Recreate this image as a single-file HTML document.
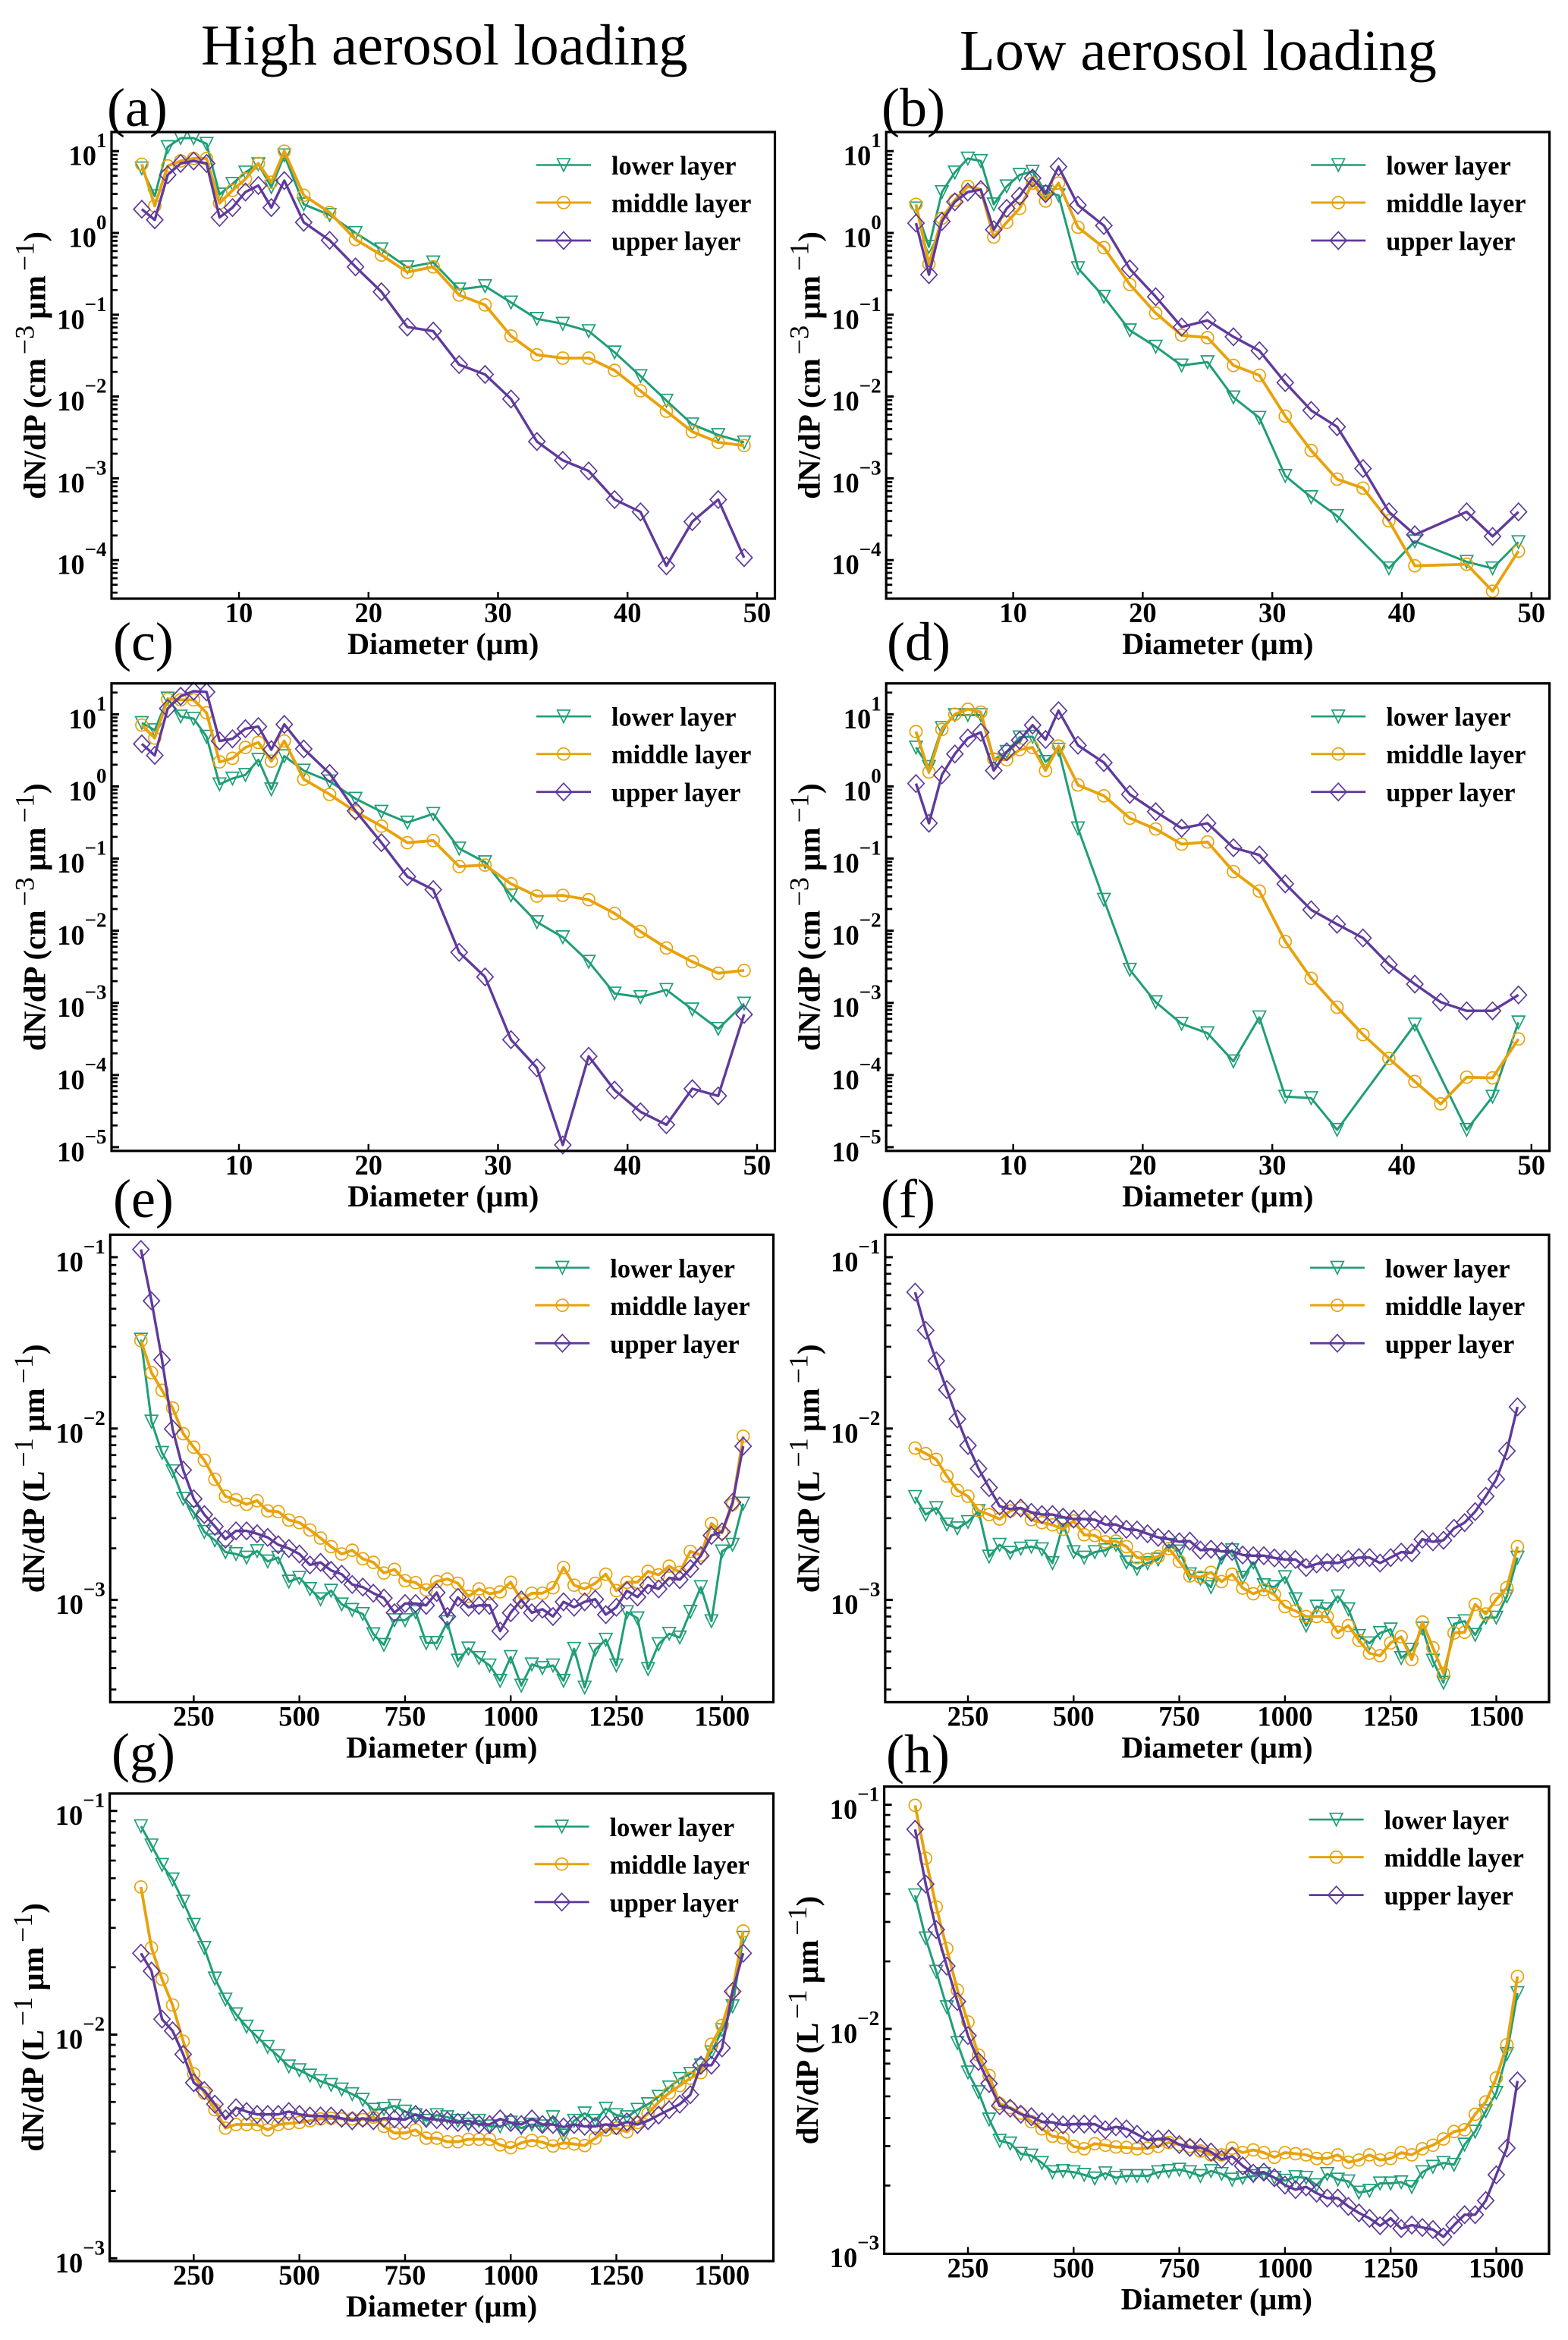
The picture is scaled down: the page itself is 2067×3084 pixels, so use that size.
<!DOCTYPE html>
<html lang="en">
<head>
<meta charset="utf-8">
<title>Particle size distributions by aerosol loading</title>
<style>
  html, body { margin: 0; padding: 0; background: #fff; }
  svg { display: block; }
  text { font-family: "Liberation Serif", "DejaVu Serif", serif; fill: #000; }
</style>
</head>
<body>
<svg id="figure" xmlns="http://www.w3.org/2000/svg" width="2067" height="3084" viewBox="0 0 2067 3084">
  <rect x="0" y="0" width="2067" height="3084" fill="#ffffff"></rect>
  <text x="265" y="85" font-size="76.5">High aerosol loading</text>
  <text x="1265" y="92" font-size="76.5">Low aerosol loading</text>
</svg>
<script>
// Diameter bins (µm)
const cloudDiameters = [2.5,3.5,4.5,5.5,6.5,7.5,8.5,9.5,10.5,11.5,12.5,13.5,15,17,19,21,23,25,27,29,31,33,35,37,39,41,43,45,47,49];
const precipDiameters = [125,150,175,200,225,250,275,300,325,350,375,400,425,450,475,500,525,550,575,600,625,650,675,700,725,750,775,800,825,850,875,900,925,950,975,1000,1025,1050,1075,1100,1125,1150,1175,1200,1225,1250,1275,1300,1325,1350,1375,1400,1425,1450,1475,1500,1525,1550];

// Tick labels
const cloudXTicks = [10,20,30,40,50];
const precipXTicks = [250,500,750,1000,1250,1500];
const abExponents = [1,0,-1,-2,-3,-4];
const cdExponents = [1,0,-1,-2,-3,-4,-5];
const efhgExponents = [-1,-2,-3];

// Series values: log10(dN/dP); null = no sample in that bin
const aLower = [0.79,0.45,1.05,1.16,1.16,1.09,0.47,0.60,0.74,0.84,0.56,0.95,0.35,0.22,0,-0.20,-0.42,-0.36,-0.69,-0.65,-0.85,-1.05,-1.11,-1.20,-1.46,-1.75,-2.05,-2.34,-2.47,-2.56];
const aMiddle = [0.84,0.33,0.82,0.88,0.91,0.91,0.365,0.52,0.66,0.85,0.62,1.00,0.46,0.25,-0.08,-0.27,-0.48,-0.415,-0.76,-0.88,-1.26,-1.49,-1.53,-1.53,-1.68,-1.93,-2.18,-2.43,-2.56,-2.60];
const aUpper = [0.29,0.16,0.71,0.85,0.88,0.85,0.19,0.31,0.50,0.58,0.31,0.64,0.13,-0.09,-0.415,-0.72,-1.15,-1.20,-1.61,-1.73,-2.03,-2.55,-2.78,-2.91,-3.26,-3.41,-4.07,-3.53,-3.26,-3.97];

const bLower = [0.30,-0.17,0.50,0.74,0.91,0.88,0.35,0.57,0.71,0.75,0.50,0.46,-0.43,-0.78,-1.19,-1.39,-1.62,-1.58,-2.01,-2.26,-2.97,-3.23,-3.46,null,-4.10,-3.77,null,-4.02,-4.10,-3.78];
const bMiddle = [0.35,-0.38,0.18,0.40,0.57,0.53,-0.05,0.13,0.30,0.61,0.39,0.61,0.07,-0.18,-0.63,-0.98,-1.25,-1.28,-1.62,-1.74,-2.24,-2.66,-3.01,-3.12,-3.52,-4.07,null,-4.05,-4.38,-3.89];
const bUpper = [0.12,-0.51,0.14,0.38,0.50,0.53,0.04,0.30,0.45,0.67,0.48,0.81,0.34,0.09,-0.44,-0.78,-1.15,-1.07,-1.27,-1.44,-1.83,-2.17,-2.37,-2.88,-3.41,-3.69,null,-3.41,-3.71,-3.41];

const cLower = [0.88,0.78,1.22,0.97,0.94,0.69,0.03,0.11,0.16,0.37,-0.04,0.42,0.22,0.07,-0.17,-0.35,-0.50,-0.38,-0.86,-1.05,-1.51,-1.88,-2.09,-2.43,-2.87,-2.92,-2.82,-3.09,-3.36,-3.01];
const cMiddle = [0.85,0.67,1.21,1.20,1.20,1.02,0.34,0.39,0.54,0.61,0.35,0.63,0.10,-0.11,-0.35,-0.55,-0.78,-0.75,-1.11,-1.09,-1.35,-1.52,-1.51,-1.57,-1.76,-2.01,-2.24,-2.43,-2.59,-2.55];
const cUpper = [0.59,0.43,1.08,1.25,1.32,1.31,0.63,0.66,0.80,0.83,0.51,0.86,0.52,0.18,-0.34,-0.78,-1.25,-1.43,-2.30,-2.64,-3.51,-3.90,-4.97,-3.74,-4.21,-4.51,-4.69,-4.19,-4.29,-3.16];

const dLower = [0.54,0.27,0.81,0.99,0.99,0.99,0.37,0.48,0.68,0.69,0.34,0.51,-0.58,-1.57,-2.54,-2.99,-3.29,-3.42,-3.81,-3.20,-4.30,-4.32,-4.76,null,null,-3.30,null,-4.76,-4.30,-3.27];
const dMiddle = [0.76,0.20,0.79,1.00,1.07,1.03,0.38,0.37,0.51,0.54,0.22,0.56,0.02,-0.13,-0.44,-0.59,-0.80,-0.77,-1.18,-1.45,-2.15,-2.66,-3.06,-3.44,-3.77,-4.09,-4.40,-4.03,-4.04,-3.50];
const dUpper = [0.04,-0.51,0.16,0.45,0.67,0.75,0.22,0.48,0.64,0.85,0.65,1.05,0.57,0.33,-0.11,-0.35,-0.58,-0.51,-0.85,-0.95,-1.35,-1.71,-1.91,-2.10,-2.47,-2.74,-2.99,-3.11,-3.11,-2.89];

const eLower = [-1.481,-1.959,-2.142,-2.249,-2.410,-2.491,-2.603,-2.652,-2.721,-2.732,-2.753,-2.715,-2.775,-2.753,-2.893,-2.871,-2.936,-2.996,-2.946,-3.026,-3.058,-3.082,-3.200,-3.262,-3.118,-3.118,-3.071,-3.251,-3.251,-3.129,-3.354,-3.283,-3.339,-3.382,-3.472,-3.333,-3.500,-3.376,-3.397,-3.382,-3.472,-3.285,-3.511,-3.290,-3.232,-3.382,-3.071,-3.107,-3.403,-3.258,-3.197,-3.219,-3.069,-2.925,-3.124,-2.717,-2.678,-2.438];
const eMiddle = [-1.487,-1.674,-1.777,-1.880,-2.030,-2.109,-2.185,-2.296,-2.395,-2.416,-2.442,-2.421,-2.481,-2.485,-2.534,-2.549,-2.592,-2.639,-2.689,-2.732,-2.710,-2.760,-2.781,-2.843,-2.822,-2.888,-2.899,-2.942,-2.893,-2.878,-2.903,-2.979,-2.936,-2.964,-2.953,-2.897,-3.000,-2.961,-2.961,-2.929,-2.811,-2.914,-2.936,-2.903,-2.850,-2.946,-2.897,-2.897,-2.833,-2.854,-2.803,-2.839,-2.717,-2.738,-2.554,-2.609,-2.442,-2.045];
const eUpper = [-0.955,-1.255,-1.599,-2.002,-2.242,-2.410,-2.502,-2.571,-2.646,-2.597,-2.597,-2.614,-2.635,-2.678,-2.700,-2.732,-2.796,-2.781,-2.828,-2.850,-2.910,-2.925,-2.961,-2.989,-3.075,-3.021,-3.021,-3.032,-2.957,-3.097,-2.985,-3.043,-3.032,-3.032,-3.182,-3.075,-3.000,-3.075,-3.054,-3.097,-3.011,-3.043,-3.011,-2.996,-3.086,-3.043,-2.946,-2.983,-2.914,-2.936,-2.871,-2.882,-2.818,-2.742,-2.624,-2.603,-2.431,-2.103];

const fLower = [-2.399,-2.502,-2.464,-2.560,-2.582,-2.545,-2.481,-2.747,-2.678,-2.725,-2.700,-2.689,-2.704,-2.785,-2.560,-2.721,-2.753,-2.721,-2.710,-2.678,-2.781,-2.818,-2.785,-2.764,-2.678,-2.717,-2.850,-2.876,-2.925,-2.753,-2.710,-2.871,-2.781,-2.914,-2.925,-2.867,-2.996,-3.150,-3.039,-3.054,-2.979,-3.054,-3.210,-3.253,-3.193,-3.172,-3.339,-3.290,-3.167,-3.354,-3.483,-3.140,-3.124,-3.204,-3.103,-3.103,-2.979,-2.753];
const fMiddle = [-2.114,-2.146,-2.180,-2.277,-2.361,-2.395,-2.479,-2.502,-2.528,-2.481,-2.464,-2.532,-2.549,-2.562,-2.588,-2.539,-2.620,-2.624,-2.661,-2.657,-2.689,-2.753,-2.764,-2.747,-2.700,-2.775,-2.860,-2.867,-2.839,-2.893,-2.850,-2.931,-2.964,-2.940,-2.968,-3.039,-3.064,-3.097,-3.097,-3.097,-3.189,-3.150,-3.236,-3.311,-3.326,-3.251,-3.215,-3.348,-3.129,-3.279,-3.429,-3.193,-3.189,-3.026,-3.082,-2.996,-2.929,-2.689];
const fUpper = [-1.204,-1.427,-1.605,-1.773,-1.944,-2.099,-2.234,-2.345,-2.453,-2.470,-2.464,-2.489,-2.502,-2.502,-2.517,-2.528,-2.528,-2.532,-2.560,-2.560,-2.588,-2.592,-2.614,-2.635,-2.646,-2.661,-2.657,-2.710,-2.704,-2.717,-2.717,-2.738,-2.742,-2.742,-2.755,-2.764,-2.764,-2.811,-2.790,-2.781,-2.785,-2.764,-2.753,-2.753,-2.785,-2.753,-2.721,-2.725,-2.646,-2.661,-2.652,-2.582,-2.549,-2.485,-2.395,-2.296,-2.131,-1.873];

const gLower = [-1.068,-1.154,-1.241,-1.306,-1.405,-1.509,-1.612,-1.749,-1.843,-1.909,-1.964,-2.010,-2.055,-2.096,-2.142,-2.159,-2.183,-2.208,-2.225,-2.245,-2.266,-2.291,-2.336,-2.332,-2.319,-2.344,-2.360,-2.385,-2.360,-2.369,-2.385,-2.402,-2.385,-2.410,-2.410,-2.393,-2.418,-2.402,-2.410,-2.369,-2.451,-2.385,-2.352,-2.385,-2.331,-2.360,-2.369,-2.336,-2.311,-2.278,-2.236,-2.198,-2.175,-2.137,-2.079,-1.980,-1.873,-1.567];
const gMiddle = [-1.340,-1.612,-1.752,-1.868,-2.030,-2.175,-2.261,-2.336,-2.418,-2.402,-2.402,-2.402,-2.426,-2.402,-2.397,-2.393,-2.385,-2.377,-2.374,-2.377,-2.377,-2.380,-2.369,-2.410,-2.440,-2.440,-2.426,-2.463,-2.463,-2.479,-2.479,-2.468,-2.468,-2.468,-2.493,-2.506,-2.484,-2.473,-2.481,-2.498,-2.484,-2.489,-2.496,-2.463,-2.426,-2.418,-2.435,-2.393,-2.352,-2.302,-2.261,-2.228,-2.195,-2.170,-2.043,-1.959,-1.807,-1.537];
const gUpper = [-1.636,-1.716,-1.931,-1.983,-2.088,-2.215,-2.250,-2.311,-2.377,-2.327,-2.344,-2.357,-2.357,-2.357,-2.344,-2.357,-2.364,-2.364,-2.364,-2.374,-2.385,-2.374,-2.385,-2.374,-2.377,-2.380,-2.357,-2.374,-2.380,-2.385,-2.393,-2.385,-2.402,-2.402,-2.377,-2.393,-2.402,-2.377,-2.402,-2.402,-2.413,-2.402,-2.410,-2.410,-2.402,-2.407,-2.390,-2.402,-2.385,-2.360,-2.336,-2.311,-2.269,-2.137,-2.137,-2.060,-1.807,-1.636];

const hLower = [-1.404,-1.596,-1.745,-1.903,-2.063,-2.194,-2.282,-2.404,-2.499,-2.511,-2.557,-2.565,-2.598,-2.639,-2.634,-2.639,-2.651,-2.667,-2.644,-2.664,-2.656,-2.656,-2.656,-2.639,-2.634,-2.628,-2.639,-2.656,-2.634,-2.647,-2.672,-2.664,-2.656,-2.647,-2.664,-2.677,-2.661,-2.664,-2.697,-2.647,-2.672,-2.680,-2.730,-2.722,-2.689,-2.689,-2.684,-2.705,-2.639,-2.615,-2.598,-2.606,-2.516,-2.458,-2.367,-2.285,-2.112,-1.840];
const hMiddle = [-1.003,-1.239,-1.456,-1.642,-1.827,-1.969,-2.117,-2.208,-2.334,-2.351,-2.376,-2.414,-2.446,-2.479,-2.486,-2.524,-2.535,-2.512,-2.519,-2.527,-2.529,-2.535,-2.532,-2.524,-2.507,-2.516,-2.524,-2.545,-2.562,-2.562,-2.532,-2.552,-2.540,-2.552,-2.573,-2.552,-2.557,-2.562,-2.578,-2.578,-2.562,-2.595,-2.585,-2.562,-2.585,-2.578,-2.552,-2.562,-2.535,-2.519,-2.491,-2.458,-2.450,-2.381,-2.326,-2.219,-2.071,-1.766];
const hUpper = [-1.110,-1.354,-1.557,-1.720,-1.878,-2.030,-2.145,-2.244,-2.343,-2.354,-2.381,-2.392,-2.414,-2.417,-2.428,-2.425,-2.425,-2.425,-2.450,-2.437,-2.446,-2.470,-2.496,-2.491,-2.491,-2.516,-2.529,-2.529,-2.549,-2.582,-2.568,-2.611,-2.644,-2.639,-2.664,-2.697,-2.717,-2.705,-2.733,-2.755,-2.755,-2.792,-2.821,-2.845,-2.878,-2.845,-2.891,-2.875,-2.886,-2.895,-2.928,-2.875,-2.829,-2.829,-2.766,-2.651,-2.532,-2.232];

const NS = 'http://www.w3.org/2000/svg';
const svg = document.getElementById('figure');

function make(parent, tag, attrs, content) {
  const node = document.createElementNS(NS, tag);
  for (const key in attrs) node.setAttribute(key, attrs[key]);
  if (content !== undefined) node.textContent = content;
  parent.appendChild(node);
  return node;
}

const seriesStyles = [
  { key: 'lower', label: 'lower layer', color: '#1f9e78', width: 3.0, legendWidth: 2.6 },
  { key: 'middle', label: 'middle layer', color: '#e8a20c', width: 3.8, legendWidth: 3.0 },
  { key: 'upper', label: 'upper layer', color: '#5f3a9b', width: 3.4, legendWidth: 2.8 }
];

function drawMarker(parent, kind, px, py, color) {
  let mark;
  if (kind === 'lower') {
    mark = make(parent, 'polygon', { points: (px - 8.3) + ',' + (py - 8.3) + ' ' + (px + 8.3) + ',' + (py - 8.3) + ' ' + px + ',' + (py + 8.3), fill: 'none', stroke: color, 'stroke-width': 1.7 });
  } else if (kind === 'middle') {
    mark = make(parent, 'circle', { cx: px, cy: py, r: 8, fill: 'none', stroke: color, 'stroke-width': 1.7 });
  } else {
    mark = make(parent, 'polygon', { points: px + ',' + (py - 11.5) + ' ' + (px + 10.7) + ',' + py + ' ' + px + ',' + (py + 11.5) + ' ' + (px - 10.7) + ',' + py, fill: 'none', stroke: color, 'stroke-width': 1.7 });
  }
  
  
  return mark;
}

function drawPanel(p) {
  const group = make(svg, 'g', {});
  
  

  const xScale = v => p.xA[1] + (v - p.xA[0]) * (p.xB[1] - p.xA[1]) / (p.xB[0] - p.xA[0]);
  const yScale = v => p.yA[1] + (v - p.yA[0]) * (p.yB[1] - p.yA[1]) / (p.yB[0] - p.yA[0]);

  // panel letter
  const letter = make(group, 'text', { x: p.letter[0], y: p.letter[1], 'font-size': 72 }, '(' + p.id + ')');
  
  

  // y ticks: major at each decade, minor at 2..9
  const yTicks = make(group, 'g', { stroke: '#000' });
  
  
  const yTop = Math.ceil(yInverse(p, p.T));
  const yBottom = Math.floor(yInverse(p, p.B));
  for (let d = yBottom; d <= yTop; d++) {
    for (let m = 1; m <= 9; m++) {
      const py = yScale(d + Math.log10(m));
      if (py < p.T + 2 || py > p.B - 2) continue;
      const len = m === 1 ? 10 : 8;
      make(yTicks, 'line', { x1: p.L, x2: p.L + len, y1: py, y2: py, 'stroke-width': m === 1 ? 3 : 2.7 });
    }
  }
  p.exps.forEach(function (exp) {
    const py = yScale(exp);
    const label = make(group, 'text', { x: p.L - 6.5, y: py + 18.5, 'text-anchor': 'end', 'font-size': 36.5, 'font-weight': 'bold' });
    
    
    make(label, 'tspan', {}, '10');
    make(label, 'tspan', { dy: -23.5, 'font-size': 27 }, String(exp).replace('-', '\u2212'));
  });

  // x ticks
  p.xTicks.forEach(function (t) {
    const px = xScale(t);
    const tick = make(group, 'line', { x1: px, x2: px, y1: p.B, y2: p.B - 9, stroke: '#000', 'stroke-width': 2.4 });
    
    
    const label = make(group, 'text', { x: px, y: p.B + 31, 'text-anchor': 'middle', 'font-size': 36.5, 'font-weight': 'bold' }, String(t));
    
    
  });

  // series
  seriesStyles.forEach(function (s) {
    const values = p.series[s.key];
    const sg = make(group, 'g', {});
    
    
    const pts = [];
    values.forEach(function (v, i) {
      if (v === null) return;
      pts.push([xScale(p.xs[i]), yScale(v)]);
    });
    const line = make(sg, 'polyline', { points: pts.map(q => q[0].toFixed(1) + ',' + q[1].toFixed(1)).join(' '), fill: 'none', stroke: s.color, 'stroke-width': s.width, 'stroke-linejoin': 'round' });
    
    
    pts.forEach(function (q) { drawMarker(sg, s.key, q[0], q[1], s.color); });
  });

  // frame
  const frame = make(group, 'rect', { x: p.L, y: p.T, width: p.R - p.L, height: p.B - p.T, fill: 'none', stroke: '#000', 'stroke-width': 3.2 });
  
  

  // axis titles
  const xTitle = make(group, 'text', { x: (p.L + p.R) / 2, y: p.B + 73, 'text-anchor': 'middle', 'font-size': 40, 'font-weight': 'bold' }, 'Diameter (\u00b5m)');
  
  

  const yTitle = make(group, 'text', { transform: 'translate(' + (p.L - 87.5) + ',' + ((p.T + p.B) / 2) + ') rotate(-90)', 'text-anchor': 'middle', 'font-size': 41, 'font-weight': 'bold' });
  
  
  make(yTitle, 'tspan', {}, 'dN/dP (' + p.unit);
  make(yTitle, 'tspan', { dx: 5, dy: -15, 'font-size': 36, 'font-weight': 'normal' }, '\u2212' + p.unitExp);
  make(yTitle, 'tspan', { dx: 8, dy: 15 }, '\u00b5m');
  make(yTitle, 'tspan', { dx: 6, dy: -15, 'font-size': 36, 'font-weight': 'normal' }, '\u22121');
  make(yTitle, 'tspan', { dy: 15 }, ')');

  // legend
  const legend = make(group, 'g', {});
  
  
  seriesStyles.forEach(function (s, i) {
    const ly = p.T + [43.5, 93, 143][i];
    const lx = p.L + 560;
    const entry = make(legend, 'g', {});
    
    
    make(entry, 'line', { x1: lx, x2: lx + 72, y1: ly, y2: ly, stroke: s.color, 'stroke-width': s.legendWidth });
    drawMarker(entry, s.key, lx + 36, ly, s.color);
    make(entry, 'text', { x: p.L + 659, y: ly + 12.5, 'font-size': 34.4, 'font-weight': 'bold' }, s.label);
  });
}

function yInverse(p, py) {
  return p.yA[0] + (py - p.yA[1]) * (p.yB[0] - p.yA[0]) / (p.yB[1] - p.yA[1]);
}

drawPanel({ id: 'a', L: 147, R: 1021.5, T: 174, B: 789, xA: [10, 315], xB: [50, 998], yA: [1, 199.2], yB: [-4, 738.2], xs: cloudDiameters, xTicks: cloudXTicks, exps: abExponents, unit: 'cm', unitExp: '3', letter: [141, 166], series: { lower: aLower, middle: aMiddle, upper: aUpper } });
drawPanel({ id: 'b', L: 1168.2, R: 2042.6, T: 174, B: 789, xA: [10, 1335.6], xB: [50, 2018.8], yA: [1, 199.2], yB: [-4, 738.2], xs: cloudDiameters, xTicks: cloudXTicks, exps: abExponents, unit: 'cm', unitExp: '3', letter: [1162, 166], series: { lower: bLower, middle: bMiddle, upper: bUpper } });
drawPanel({ id: 'c', L: 147, R: 1021.5, T: 900.7, B: 1516.8, xA: [10, 315], xB: [50, 998], yA: [1, 941.4], yB: [-5, 1511.9], xs: cloudDiameters, xTicks: cloudXTicks, exps: cdExponents, unit: 'cm', unitExp: '3', letter: [149, 870], series: { lower: cLower, middle: cMiddle, upper: cUpper } });
drawPanel({ id: 'd', L: 1168.2, R: 2042.6, T: 900.7, B: 1516.8, xA: [10, 1335.6], xB: [50, 2018.8], yA: [1, 941.4], yB: [-5, 1511.9], xs: cloudDiameters, xTicks: cloudXTicks, exps: cdExponents, unit: 'cm', unitExp: '3', letter: [1169, 870], series: { lower: dLower, middle: dMiddle, upper: dUpper } });
drawPanel({ id: 'e', L: 145.3, R: 1019.5, T: 1627.3, B: 2243.4, xA: [250, 255.4], xB: [1500, 951.8], yA: [-1, 1656.9], yB: [-3, 2108.6], xs: precipDiameters, xTicks: precipXTicks, exps: efhgExponents, unit: 'L', unitExp: '1', letter: [149, 1604], series: { lower: eLower, middle: eMiddle, upper: eUpper } });
drawPanel({ id: 'f', L: 1166.9, R: 2042, T: 1627.3, B: 2243.4, xA: [250, 1276], xB: [1500, 1972.5], yA: [-1, 1656.9], yB: [-3, 2108.6], xs: precipDiameters, xTicks: precipXTicks, exps: efhgExponents, unit: 'L', unitExp: '1', letter: [1161, 1604], series: { lower: fLower, middle: fMiddle, upper: fUpper } });
drawPanel({ id: 'g', L: 144.6, R: 1019.5, T: 2363.8, B: 2980, xA: [250, 255.4], xB: [1500, 951.8], yA: [-1, 2386.7], yB: [-3, 2976.3], xs: precipDiameters, xTicks: precipXTicks, exps: efhgExponents, unit: 'L', unitExp: '1', letter: [147, 2334], series: { lower: gLower, middle: gMiddle, upper: gUpper } });
drawPanel({ id: 'h', L: 1165.6, R: 2042, T: 2354.6, B: 2970.4, xA: [250, 1276], xB: [1500, 1972.5], yA: [-1, 2378.5], yB: [-3, 2969.4], xs: precipDiameters, xTicks: precipXTicks, exps: efhgExponents, unit: 'L', unitExp: '1', letter: [1168, 2336], series: { lower: hLower, middle: hMiddle, upper: hUpper } });
</script>
</body>
</html>
